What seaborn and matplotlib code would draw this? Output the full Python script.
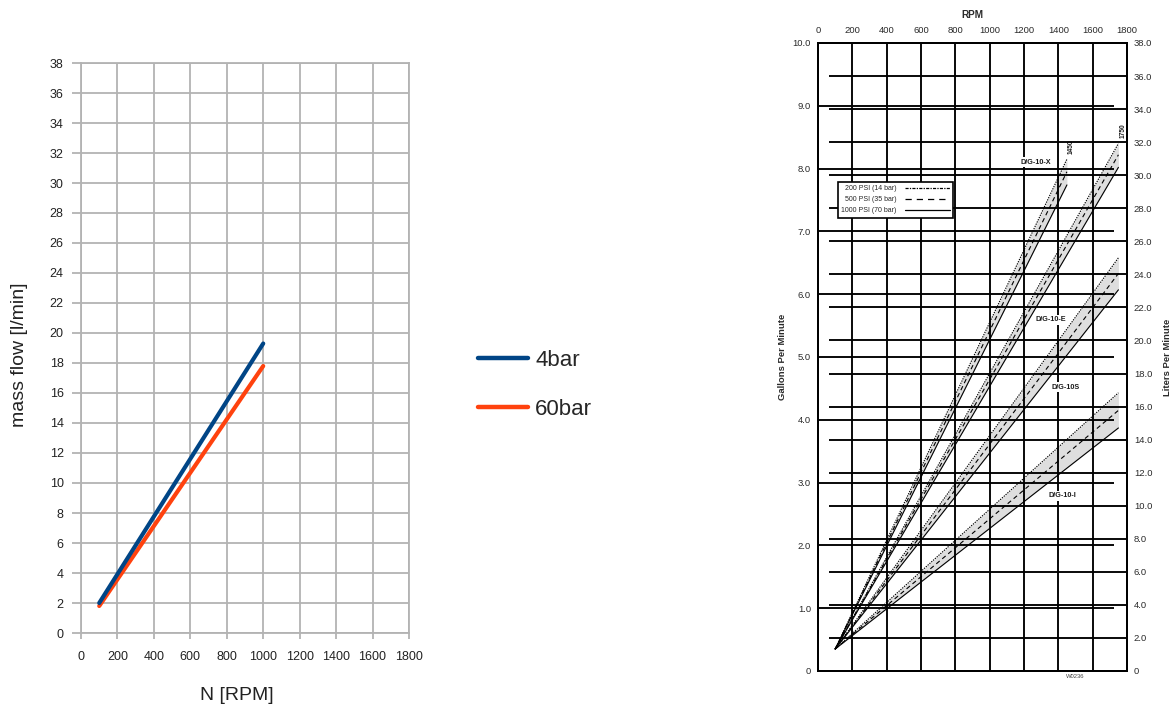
import matplotlib
matplotlib.use("Agg")
import matplotlib.pyplot as plt
from matplotlib.lines import Line2D
import pandas as pd
import seaborn as sns

# Measured delivery of the test pump at two discharge pressures
rpm_test = [100, 1000]
flow_4bar = [2.0, 19.3]
flow_60bar = [1.8, 17.8]
test_series = ["4bar", "60bar"]
test_colors = ["#004586", "#ff420e"]
flow_ticks = list(range(0, 40, 2))
rpm_ticks = list(range(0, 2000, 200))

# Catalogue performance curves of the D/G-10 family
pump_models = ["D/G-10-X", "D/G-10-E", "D/G-10S", "D/G-10-I"]
curve_start_rpm = 100
curve_start_gpm = 0.35
curve_max_rpm = [1450, 1750, 1750, 1750]
gpm_200psi = [8.15, 8.40, 6.58, 4.43]
gpm_500psi = [7.95, 8.22, 6.33, 4.15]
gpm_1000psi = [7.74, 8.02, 6.07, 3.87]
pressure_labels = ["200 PSI (14 bar)", "500 PSI (35 bar)", "1000 PSI (70 bar)"]
gpm_ticks = list(range(0, 11))
lpm_ticks = list(range(0, 40, 2))

sns.set_theme(style="white")
plt.rcParams["font.family"] = ["Liberation Sans", "DejaVu Sans"]

fig = plt.figure(figsize=(11.72, 7.08), dpi=100)
W, H = 1172, 708


def px_axes(x0, y0, x1, y1):
    return fig.add_axes([x0 / W, 1 - y1 / H, (x1 - x0) / W, (y1 - y0) / H])


# ---------------- left: measured flow ----------------
ax1 = px_axes(81, 63, 409, 633)
grey = "#b3b3b3"
df_test = pd.DataFrame({
    "rpm": rpm_test * 2,
    "flow": flow_60bar + flow_4bar,
    "series": ["60bar"] * len(rpm_test) + ["4bar"] * len(rpm_test),
})
palette = dict(zip(test_series, test_colors))
sns.lineplot(data=df_test, x="rpm", y="flow", hue="series",
             hue_order=["60bar", "4bar"], palette=palette,
             linewidth=3.0, ax=ax1, legend=False, zorder=3)
ax1.set_xlim(0, 1800)
ax1.set_ylim(0, 38)
ax1.set_xticks(rpm_ticks)
ax1.set_yticks(flow_ticks)
ax1.grid(True, color=grey, linewidth=1.3)
for s in ax1.spines.values():
    s.set_color(grey)
    s.set_linewidth(1.3)
ax1.tick_params(axis="both", which="both", direction="out", color=grey,
                width=1.3, labelsize=9, labelcolor="#222222")
ax1.tick_params(axis="y", length=6.5, pad=6, left=True)
ax1.tick_params(axis="x", length=4, pad=9, bottom=True)
ax1.set_xlabel("N [RPM]", fontsize=14, color="#222222")
ax1.set_ylabel("mass flow [l/min]", fontsize=14, color="#222222")
ax1.xaxis.set_label_coords((237 - 81) / 328, -(695 - 633) / 570)
ax1.xaxis.label.set_va("center")
ax1.yaxis.set_label_coords((20 - 81) / 328, (633 - 355) / 570)
ax1.yaxis.label.set_va("center")

handles = [Line2D([], [], color=c, linewidth=3.2) for c in test_colors]
fig.legend(handles, test_series, loc="center left",
           bbox_to_anchor=(478 / W, 1 - 385 / H), frameon=False,
           fontsize=16, handlelength=2.25, handletextpad=0.32,
           labelspacing=1.25, borderpad=0, borderaxespad=0)

# ---------------- right: catalogue curves ----------------
ax2 = px_axes(818, 43, 1127, 671)
ax2.set_xlim(0, 1800)
ax2.set_ylim(0, 10)
ax3 = ax2.twinx()
ax3.set_ylim(0, 38)

rows = []
for i, model in enumerate(pump_models):
    ends = [gpm_200psi[i], gpm_500psi[i], gpm_1000psi[i]]
    for p, g in zip(pressure_labels, ends):
        rows.append(dict(model=model, pressure=p, rpm=curve_start_rpm, gpm=curve_start_gpm))
        rows.append(dict(model=model, pressure=p, rpm=curve_max_rpm[i], gpm=g))
df_curves = pd.DataFrame(rows)

for i, model in enumerate(pump_models):
    ax2.fill_between([curve_start_rpm, curve_max_rpm[i]],
                     [curve_start_gpm, gpm_1000psi[i]],
                     [curve_start_gpm, gpm_200psi[i]],
                     color="#dedede", linewidth=0, zorder=0.5)

line_dashes = {pressure_labels[0]: (1.2, 1.0),
               pressure_labels[1]: (4, 3),
               pressure_labels[2]: ""}
sns.lineplot(data=df_curves, x="rpm", y="gpm", units="model", style="pressure",
             estimator=None, dashes=line_dashes, color="black", linewidth=0.8,
             ax=ax2, legend=False, zorder=2)

lw_grid = 1.35
ax2.set_xticks(rpm_ticks)
ax2.grid(True, axis="x", color="black", linewidth=lw_grid)
ax2.grid(False, axis="y")
ax2.hlines(gpm_ticks[1:-1], 0, 1725, color="black", linewidth=lw_grid, zorder=1)
ax3.hlines(lpm_ticks[1:], 64, 1800, color="black", linewidth=lw_grid, zorder=1)

ax2.xaxis.tick_top()
ax2.set_xticklabels([str(v) for v in rpm_ticks])
ax2.set_yticks(gpm_ticks)
ax2.set_yticklabels(["0"] + [f"{v:.1f}" for v in gpm_ticks[1:]])
ax3.set_yticks(lpm_ticks)
ax3.set_yticklabels(["0"] + [f"{v:.1f}" for v in lpm_ticks[1:]])
for a in (ax2, ax3):
    a.tick_params(axis="both", length=0, labelsize=6.8, labelcolor="#2a2a2a", pad=5)
    for s in a.spines.values():
        s.set_color("black")
        s.set_linewidth(lw_grid)
ax2.tick_params(axis="x", pad=6)
ax2.set_xlabel("")
ax2.set_ylabel("Gallons Per Minute", fontsize=6.8, fontweight="bold", color="#2a2a2a")
ax2.yaxis.set_label_coords((783 - 818) / 309, 0.5)
ax2.yaxis.label.set_va("center")
ax3.set_ylabel("Liters Per Minute", fontsize=6.8, fontweight="bold", color="#2a2a2a",
               rotation=90)
ax3.yaxis.set_label_coords((1167 - 818) / 309, 0.5)
ax3.yaxis.label.set_va("center")
ax2.text(0.498, (671 - 15) / 628, "RPM", transform=ax2.transAxes, ha="center",
         va="center", fontsize=7.2, fontweight="bold", color="#2a2a2a")

# model names next to their bands
label_pos = [(1269, 8.10), (1357, 5.59), (1445, 4.52), (1421, 2.79)]
for model, (x, y) in zip(pump_models, label_pos):
    ax2.text(x, y, model, ha="center", va="center", fontsize=5.2,
             fontweight="bold", color="#1a1a1a", zorder=4,
             bbox=dict(facecolor="white", edgecolor="none", pad=1.0))

# speed limit marks at the top of the first two bands
for i in range(2):
    ax2.text(curve_max_rpm[i] + 25, gpm_200psi[i] + 0.08, str(curve_max_rpm[i]),
             rotation=90, ha="center", va="bottom", fontsize=4.8,
             fontweight="bold", color="#1a1a1a", zorder=4)

ax2.text((1075 - 818) / 309, -(677 - 671) / 628, "W0236", transform=ax2.transAxes,
         ha="center", va="center", fontsize=4.2, color="#444444")

leg_handles = [Line2D([], [], color="black", linewidth=0.9, linestyle=(0, d) if d else "-")
               for d in [(2.5, 1, 1, 1), (5, 4), ""]]
leg = ax3.legend(leg_handles, pressure_labels, loc="upper left",
                 bbox_to_anchor=((838 - 818) / 309, (671 - 182) / 628),
                 borderaxespad=0, fontsize=5.0, markerfirst=False,
                 handlelength=6.5, handletextpad=1.2, labelspacing=0.6,
                 borderpad=0.45, fancybox=False, framealpha=1,
                 edgecolor="black")
leg.get_frame().set_linewidth(1.2)
leg.set_zorder(5)

fig.savefig("out.png", dpi=100)
